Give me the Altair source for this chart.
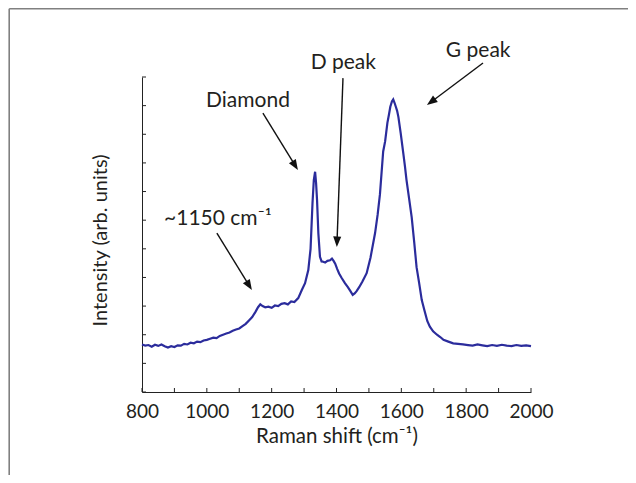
import math
import altair as alt
import pandas as pd

# ---- spectrum ----
wavenumber = [800, 810, 820, 830, 840, 850, 860, 870, 880, 890, 900, 910, 920, 930, 940,
              950, 960, 970, 980, 990, 1000, 1010, 1020, 1030, 1040, 1050, 1060, 1070,
              1080, 1090, 1100, 1110, 1120, 1130, 1140, 1150, 1158, 1165, 1172, 1180,
              1190, 1200, 1210, 1220, 1230, 1240, 1250, 1260, 1270, 1282, 1293, 1303,
              1313, 1320, 1326, 1330, 1334, 1337, 1340, 1344, 1349, 1354, 1359, 1365,
              1372, 1380, 1386, 1391, 1396, 1402, 1408, 1416, 1426, 1435, 1443, 1450,
              1456, 1462, 1470, 1480, 1493, 1505, 1519, 1527, 1534, 1544, 1550, 1557,
              1562, 1566, 1571, 1575, 1579, 1583, 1587, 1591, 1598, 1606, 1611, 1616,
              1624, 1632, 1640, 1647, 1655, 1663, 1672, 1680, 1688, 1698, 1710, 1720,
              1730, 1745, 1760, 1775, 1790, 1806, 1820, 1835, 1850, 1865, 1880, 1895,
              1910, 1925, 1940, 1955, 1970, 1985, 2000]
intensity = [1.66, 1.62, 1.64, 1.58, 1.65, 1.61, 1.66, 1.60, 1.55, 1.60, 1.57, 1.63, 1.62,
             1.68, 1.66, 1.72, 1.70, 1.76, 1.74, 1.80, 1.82, 1.86, 1.90, 1.88, 1.96, 2.00,
             2.04, 2.08, 2.14, 2.18, 2.22, 2.30, 2.38, 2.50, 2.62, 2.80, 2.96, 3.06, 3.00,
             2.96, 2.98, 2.94, 3.02, 3.00, 3.08, 3.10, 3.06, 3.16, 3.14, 3.28, 3.56, 3.80,
             4.26, 5.00, 6.60, 7.40, 7.69, 7.30, 6.70, 5.55, 4.72, 4.56, 4.55, 4.52, 4.58,
             4.60, 4.66, 4.58, 4.48, 4.30, 4.14, 3.98, 3.80, 3.66, 3.52, 3.39, 3.44, 3.52,
             3.66, 3.86, 4.15, 4.70, 5.55, 6.20, 6.90, 8.40, 8.75, 9.40, 9.70, 9.96, 10.15,
             10.22, 10.10, 9.96, 9.82, 9.60, 9.04, 8.34, 7.90, 7.40, 6.75, 6.10, 5.20, 4.36,
             3.80, 3.21, 2.82, 2.48, 2.28, 2.12, 2.00, 1.92, 1.82, 1.76, 1.70, 1.68, 1.66,
             1.64, 1.62, 1.66, 1.63, 1.60, 1.64, 1.61, 1.65, 1.62, 1.60, 1.64, 1.61, 1.63,
             1.60]

x_tick_values = list(range(800, 2001, 100))
x_label_values = [800, 1000, 1200, 1400, 1600, 1800, 2000]
y_tick_values = list(range(0, 12))

# ---- annotations ----
ann_text = ["~1150 cm\u207b\u00b9", "Diamond", "D peak", "G peak"]
ann_tx = [1034, 1127, 1421, 1837]
ann_ty = [5.83, 9.95, 11.28, 11.70]
arrow_x0 = [1031, 1173, 1420, 1852]
arrow_y0 = [5.55, 9.74, 10.96, 11.49]
arrow_x1 = [1139, 1281, 1401, 1679]
arrow_y1 = [3.56, 7.75, 5.06, 10.02]

X_DOMAIN = [800, 2000]
Y_DOMAIN = [0, 11]
W, H = 389, 315
PAD = {"left": 134, "top": 69, "right": 97, "bottom": 83}

FONT = "Lato"
TXT = "#231f20"
LINE = "#2b2c9c"

px_x = W / (X_DOMAIN[1] - X_DOMAIN[0])
px_y = H / (Y_DOMAIN[1] - Y_DOMAIN[0])

# arrow geometry: rule shortened so it ends inside the head, head rotated along the arrow
ang, sx1, sy1 = [], [], []
for x0, y0, x1, y1 in zip(arrow_x0, arrow_y0, arrow_x1, arrow_y1):
    dxp = (x1 - x0) * px_x
    dyp = -(y1 - y0) * px_y
    L = math.hypot(dxp, dyp)
    ang.append(math.degrees(math.atan2(dxp, -dyp)) % 360)
    f = (L - 6) / L
    sx1.append(x0 + (x1 - x0) * f)
    sy1.append(y0 + (y1 - y0) * f)

spec_df = pd.DataFrame({"x": wavenumber, "y": intensity})
ann_df = pd.DataFrame({"label": ann_text, "x": ann_tx, "y": ann_ty})
arr_df = pd.DataFrame({"x": arrow_x0, "y": arrow_y0, "x2": sx1, "y2": sy1,
                       "hx": arrow_x1, "hy": arrow_y1, "ang": ang})
xt_df = pd.DataFrame({"x": x_tick_values})
yt_df = pd.DataFrame({"y": y_tick_values})

xs = alt.Scale(domain=X_DOMAIN, nice=False, zero=False)
ys = alt.Scale(domain=Y_DOMAIN, nice=False, zero=False)

x_axis = alt.Axis(values=x_label_values, format="d", ticks=False, tickSize=0, grid=False,
                  domainColor="#222222", domainWidth=1, labelFont=FONT, labelFontSize=19,
                  labelColor=TXT, labelPadding=10, title="Raman shift (cm\u207b\u00b9)",
                  titleFont=FONT, titleFontSize=20.5, titleFontWeight="normal",
                  titleColor=TXT, titlePadding=5, labelFlush=False)
y_axis = alt.Axis(labels=False, ticks=False, tickSize=0, grid=False, domainColor="#222222",
                  domainWidth=1, title="Intensity (arb. units)", titleFont=FONT,
                  titleFontSize=20, titleFontWeight="normal", titleColor=TXT,
                  titlePadding=32, titleY=163)

X = lambda f="x": alt.X(f"{f}:Q", scale=xs, axis=x_axis)
Y = lambda f="y": alt.Y(f"{f}:Q", scale=ys, axis=y_axis)

spectrum = alt.Chart(spec_df).mark_line(color=LINE, strokeWidth=2.2).encode(x=X(), y=Y())

xticks = alt.Chart(xt_df).mark_rule(color="#222222", strokeWidth=1).encode(
    x=X(), y=alt.value(H), y2=alt.value(H - 4))
yticks = alt.Chart(yt_df).mark_rule(color="#222222", strokeWidth=1).encode(
    y=Y(), x=alt.value(0), x2=alt.value(4))

arrows = alt.Chart(arr_df).mark_rule(color="#111111", strokeWidth=1.4).encode(
    x=X(), y=Y(), x2="x2:Q", y2="y2:Q")
heads = alt.Chart(arr_df).mark_point(
    shape="M0,0L0.38,1L-0.38,1Z", filled=True, color="#111111", opacity=1, size=450
).encode(x=X("hx"), y=Y("hy"), angle=alt.Angle("ang:Q", scale=None))

labels = alt.Chart(ann_df).mark_text(font=FONT, fontSize=21, color=TXT, align="center",
                                     baseline="alphabetic").encode(
    x=X(), y=Y(), text="label:N")

frame_df = pd.DataFrame({"a": [0]})
frame_v = alt.Chart(frame_df).mark_rule(color="#808080", strokeWidth=1.6).encode(
    x=alt.value(-PAD["left"] + 1.2), y=alt.value(-PAD["top"] + 0.8),
    y2=alt.value(H + PAD["bottom"] + 5))
frame_h = alt.Chart(frame_df).mark_rule(color="#808080", strokeWidth=1.6).encode(
    x=alt.value(-PAD["left"] + 1.2), x2=alt.value(W + PAD["right"] + 5),
    y=alt.value(-PAD["top"] + 0.8))

chart = alt.layer(spectrum, xticks, yticks, arrows, heads, labels, frame_v, frame_h).properties(
    width=W, height=H, autosize=alt.AutoSizeParams(type="none"), padding=PAD,
    background="white"
).configure_view(stroke=None)

chart.save("out.html", embed_options={"renderer": "svg", "actions": False})
